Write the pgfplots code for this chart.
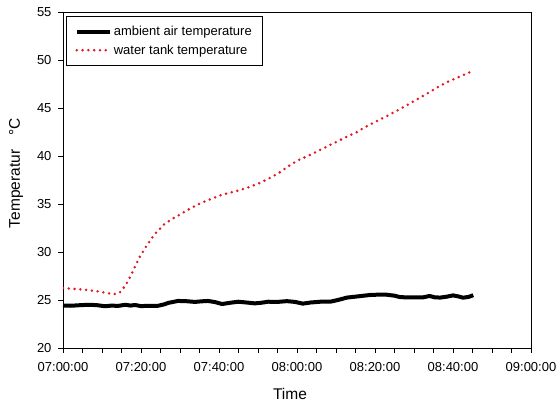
\documentclass[border=0pt]{standalone}
\usepackage{fontspec}
\setmainfont{Liberation Sans}
\usepackage{pgfplots}
\pgfplotsset{compat=1.18}
\definecolor{tankred}{RGB}{225,25,35}
\begin{document}
\begin{tikzpicture}
\begin{axis}[
  scale only axis,
  width=468pt, height=336pt,
  at={(0,0)}, anchor=south west,
  xmin=0, xmax=120, ymin=20, ymax=55,
  xtick={0,20,40,60,80,100,120},
  xticklabels={07:00:00,07:20:00,07:40:00,08:00:00,08:20:00,08:40:00,09:00:00},
  minor x tick num=3,
  ytick={20,25,30,35,40,45,50,55},
  tick align=outside,
  major tick length=5pt, minor tick length=5pt,
  xtick pos=bottom, ytick pos=left,
  axis line style={line width=0.9pt},
  every tick/.style={black, line width=0.7pt},
  /pgf/number format/assume math mode=true,
  tick label style={font=\fontsize{13}{15}\selectfont},
  xticklabel style={yshift=-6pt},
  yticklabel style={xshift=-3pt},
  label style={font=\fontsize{15.5}{18}\selectfont},
  xlabel={Time},
  ylabel={Temperatur\hspace{14pt}°C},
  xlabel style={at={(axis description cs:0.485,-0.137)}, anchor=center},
  ylabel style={at={(axis description cs:-0.1,0.52)}, anchor=center, rotate=0},
  legend style={at={(axis description cs:0.0064,0.988)}, anchor=north west,
    font=\fontsize{13}{15.5}\selectfont, draw=black, line width=0.6pt,
    inner xsep=8.5pt, inner ysep=8pt, row sep=3.5pt},
  legend cell align=left,
  legend image code/.code={\draw[#1] (0pt,0pt) -- (33pt,0pt);},
]
\addplot[black, line width=4pt, line join=round] coordinates {
(0,24.42) (2,24.40) (4,24.45) (6.5,24.50) (8.5,24.47) (10.8,24.35) (12.5,24.42)
(14,24.38) (16,24.50) (17.3,24.42) (18.5,24.48) (20,24.36) (22,24.40) (24.4,24.40)
(26,24.55) (27,24.70) (29.5,24.90) (31.5,24.88) (33.8,24.80) (35.5,24.86) (37.2,24.90)
(39,24.78) (40.8,24.58) (43,24.72) (45,24.82) (47,24.74) (49.2,24.65) (51,24.72)
(52.6,24.82) (55,24.80) (57.4,24.88) (59.5,24.80) (61.5,24.62) (63.5,24.74)
(66,24.82) (68.5,24.82) (70.5,25.00) (72.8,25.25) (75,25.35) (78.7,25.52)
(81,25.56) (83,25.55) (85,25.45) (86.4,25.30) (89,25.26) (92.3,25.27) (94,25.42)
(95.3,25.28) (96.7,25.25) (98.5,25.35) (100,25.48) (101.3,25.38) (102.6,25.24)
(104,25.32) (105.2,25.50)
};
\addlegendentry{ambient air temperature}
\addplot[tankred, line width=2.8pt, line cap=round, dash pattern=on 0pt off 5.8pt] coordinates {
(0,26.25) (3,26.15) (6,26.05) (9,25.90) (11,25.75) (13,25.60) (14.5,25.75)
(16,26.50) (17.2,27.40) (18.5,28.50) (19.7,29.50) (21.5,30.70) (23.6,31.90)
(26,32.90) (28.2,33.50) (30,33.90) (32.5,34.50) (35.1,35.05) (37.5,35.45)
(40.3,35.90) (43,36.20) (45.4,36.45) (48,36.80) (50.5,37.20) (53,37.70)
(55.6,38.30) (58.2,39.05) (60.5,39.60) (63.3,40.10) (66,40.65) (68.5,41.15)
(72,41.85) (75.4,42.50) (77,42.90) (80,43.55) (83,44.15) (86,44.80) (88.2,45.30)
(91,45.95) (94,46.65) (96,47.15) (98.5,47.70) (101,48.15) (103,48.50) (105.1,48.85)
};
\addlegendentry{water tank temperature}
\end{axis}
\pgfresetboundingbox
\path[use as bounding box] (-63pt,-55pt) rectangle (497pt,348pt);
\end{tikzpicture}
\end{document}
